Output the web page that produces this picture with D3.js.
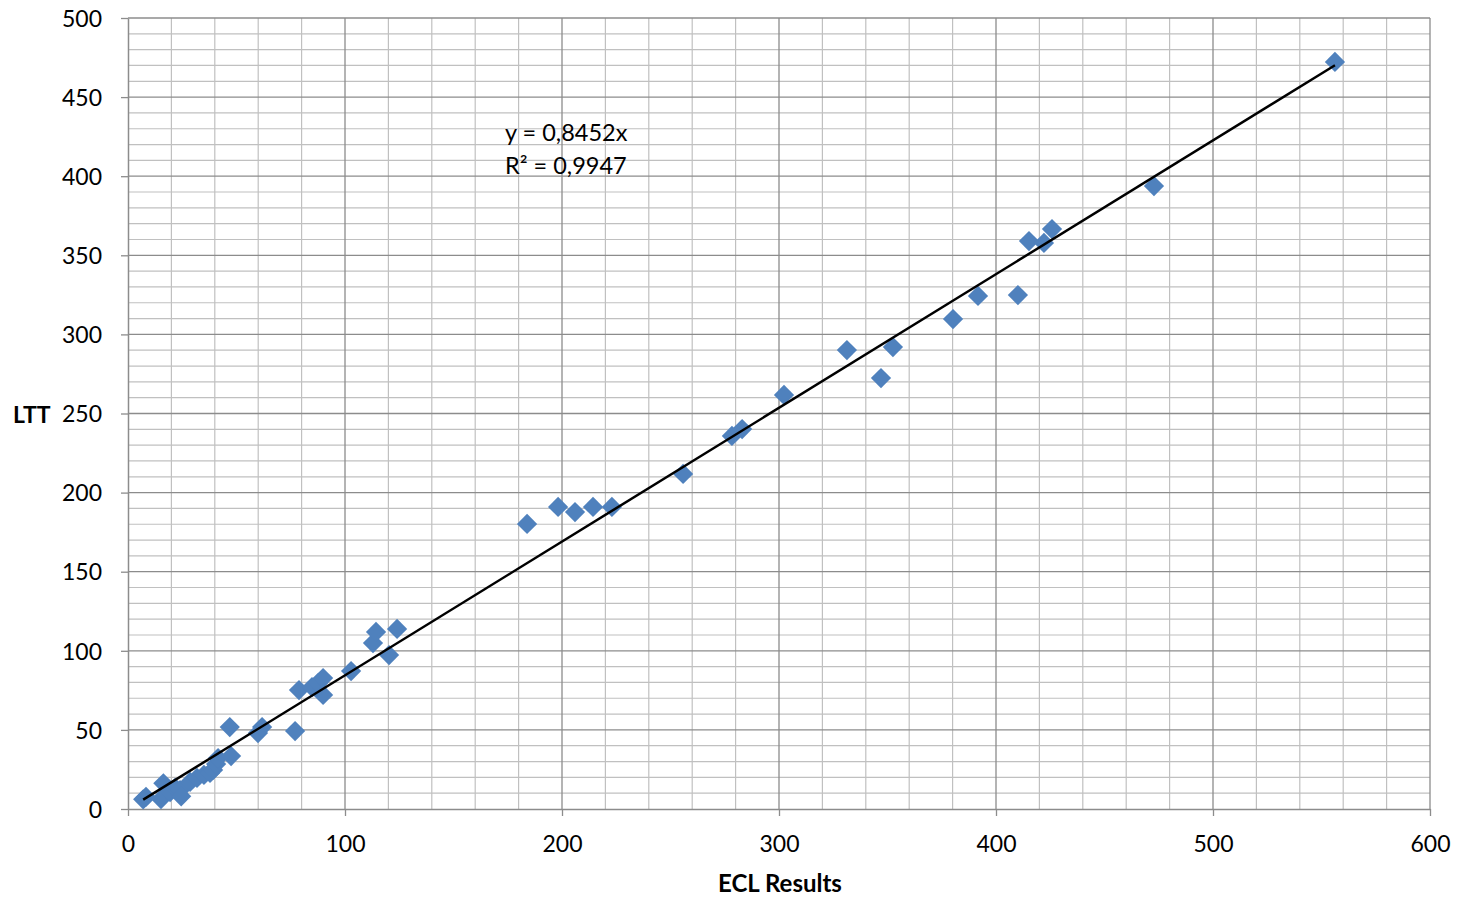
<!DOCTYPE html>
<html>
<head>
<meta charset="utf-8">
<script src="https://cdn.jsdelivr.net/npm/d3@7"></script>
<style>
  html, body { margin: 0; padding: 0; background: #fff; }
  svg { display: block; font-family: Lato, "Open Sans", sans-serif; }
</style>
</head>
<body>
<svg id="chart" width="1458" height="900"></svg>
<script>
// ECL results (x) against LTT (y)
const eclValues = [7.0, 8.3, 16.3, 15.2, 19.4, 21.7, 24.0, 24.5, 28.6, 31.8, 35.0, 37.8, 39.2, 40.6, 41.5, 47.5,
  46.9, 59.9, 61.8, 77.0, 78.8, 84.8, 87.6, 89.9, 89.9, 102.8, 112.9, 114.3, 120.3, 124.0,
  183.9, 198.2, 206.0, 214.3, 223.0, 255.8, 278.3, 283.0, 302.3, 331.3, 347.0, 352.5,
  380.2, 391.7, 410.1, 415.2, 422.1, 425.8, 472.8, 556.2];
const lttValues = [6.1, 7.6, 16.2, 6.3, 10.7, 13.3, 12.0, 8.0, 17.1, 19.6, 21.5, 22.8, 24.7, 28.4, 32.2, 33.5,
  51.8, 48.0, 51.8, 49.3, 75.2, 77.1, 79.6, 82.8, 72.1, 87.2, 104.9, 111.9, 97.3, 113.8,
  180.2, 190.9, 187.7, 190.9, 190.9, 211.8, 235.8, 240.2, 261.7, 290.1, 272.4, 292.0,
  309.7, 324.3, 324.9, 359.0, 357.8, 366.6, 393.8, 472.2];

// Linear fit through the origin
const slope = 0.8452;
const equationLines = ["y = 0,8452x", "R\u00B2 = 0,9947"];

const xTicks = [0, 100, 200, 300, 400, 500, 600];
const yTicks = [0, 50, 100, 150, 200, 250, 300, 350, 400, 450, 500];
const xTitle = "ECL Results";
const yTitle = "LTT";

const svg = d3.select("#chart");
const plot = { left: 128, right: 1430, top: 18, bottom: 809 };

const x = d3.scaleLinear().domain([0, 600]).range([plot.left, plot.right]);
const y = d3.scaleLinear().domain([0, 500]).range([plot.bottom, plot.top]);

const minorX = d3.range(0, 601, 20).filter(v => v % 100 !== 0);
const minorY = d3.range(0, 501, 10).filter(v => v % 50 !== 0);

const grid = svg.append("g");
grid.selectAll(".mx").data(minorX).join("line")
  .attr("x1", d => x(d)).attr("x2", d => x(d))
  .attr("y1", plot.top).attr("y2", plot.bottom)
  .attr("stroke", "#c0c0c0").attr("stroke-width", 1.2);
grid.selectAll(".my").data(minorY).join("line")
  .attr("x1", plot.left).attr("x2", plot.right)
  .attr("y1", d => y(d)).attr("y2", d => y(d))
  .attr("stroke", "#c0c0c0").attr("stroke-width", 1.2);
grid.selectAll(".Mx").data(xTicks.slice(1)).join("line")
  .attr("x1", d => x(d)).attr("x2", d => x(d))
  .attr("y1", plot.top).attr("y2", plot.bottom)
  .attr("stroke", "#8c8c8c").attr("stroke-width", 1.3);
grid.selectAll(".My").data(yTicks.slice(1)).join("line")
  .attr("x1", plot.left).attr("x2", plot.right)
  .attr("y1", d => y(d)).attr("y2", d => y(d))
  .attr("stroke", "#8c8c8c").attr("stroke-width", 1.3);

// Axes
const xAxis = svg.append("g")
  .attr("transform", `translate(0,${plot.bottom})`)
  .call(d3.axisBottom(x).tickValues(xTicks).tickSize(7).tickPadding(20).tickSizeOuter(0));
const yAxis = svg.append("g")
  .attr("transform", `translate(${plot.left},0)`)
  .call(d3.axisLeft(y).tickValues(yTicks).tickSize(7).tickPadding(19).tickSizeOuter(0));
[xAxis, yAxis].forEach(a => {
  a.select(".domain").attr("stroke", "#8c8c8c").attr("stroke-width", 1.5);
  a.selectAll(".tick line").attr("stroke", "#8c8c8c").attr("stroke-width", 1.3);
  a.selectAll(".tick text").attr("fill", "#000").style("font-size", "23px")
    .style("font-family", "Lato, 'Open Sans', sans-serif");
});
yAxis.selectAll(".tick text").attr("dy", "0.36em");

// Markers
const marker = d3.symbol().type(d3.symbolSquare).size(205);
svg.append("g").selectAll("path").data(eclValues.map((v, i) => [v, lttValues[i]])).join("path")
  .attr("d", marker)
  .attr("transform", d => `translate(${x(d[0])},${y(d[1])}) rotate(45)`)
  .attr("fill", "#4f81bd");

// Trend line across the data range
const xMin = d3.min(eclValues), xMax = d3.max(eclValues);
svg.append("line")
  .attr("x1", x(xMin)).attr("y1", y(slope * xMin))
  .attr("x2", x(xMax)).attr("y2", y(slope * xMax))
  .attr("stroke", "#000").attr("stroke-width", 2.5);

// Equation label
svg.append("g").selectAll("text").data(equationLines).join("text")
  .attr("x", 505).attr("y", (d, i) => 141 + i * 33)
  .style("font-size", "23.5px").attr("fill", "#000")
  .text(d => d);

// Axis titles
svg.append("text").attr("x", (plot.left + plot.right) / 2 + 1).attr("y", 892)
  .attr("text-anchor", "middle").style("font-size", "24px").style("font-weight", "bold")
  .text(xTitle);
svg.append("text").attr("x", 13).attr("y", 423)
  .style("font-size", "23px").style("font-weight", "bold")
  .text(yTitle);
</script>
</body>
</html>
